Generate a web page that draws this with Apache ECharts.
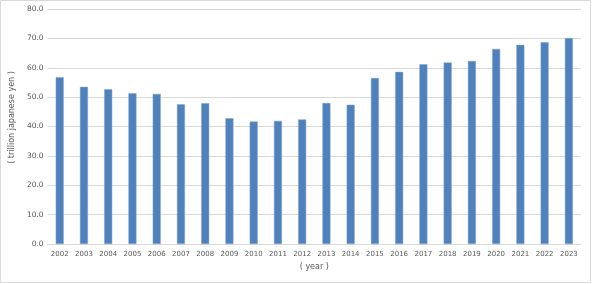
<!DOCTYPE html>
<html>
<head>
<meta charset="utf-8">
<script src="https://cdn.jsdelivr.net/npm/echarts@6/dist/echarts.min.js"></script>
<style>
html,body{margin:0;padding:0;background:#fff;}
#c{width:592px;height:284px;}
</style>
</head>
<body>
<div id="c"></div>
<script>
var years = ["2002","2003","2004","2005","2006","2007","2008","2009","2010","2011","2012","2013","2014","2015","2016","2017","2018","2019","2020","2021","2022","2023"];
var values = [56.8,53.5,52.7,51.3,51.1,47.6,47.9,42.8,41.7,41.9,42.4,48.0,47.4,56.5,58.6,61.2,61.8,62.3,66.4,67.8,68.7,70.1];
var yName = "( trillion japanese yen )";
var xName = "( year )";

var chart = echarts.init(document.getElementById('c'), null, {renderer:'canvas'});
chart.setOption({
  animation:false,
  backgroundColor:'#fff',
  graphic:[{type:'rect', shape:{x:0.5,y:0.5,width:590,height:282}, style:{fill:'none', stroke:'#d9d9d9', lineWidth:1}, silent:true}],
  grid:{left:43, right:11, top:9, bottom:40, containLabel:false},
  xAxis:{
    type:'category', data:years,
    axisLine:{show:true, lineStyle:{color:'#d9d9d9'}},
    axisTick:{show:false},
    axisLabel:{color:'#595959', fontSize:7, fontFamily:'DejaVu Sans', margin:7, interval:0},
    name:xName, nameLocation:'middle', nameGap:19,
    nameTextStyle:{color:'#595959', fontSize:8, fontFamily:'DejaVu Sans'}
  },
  yAxis:{
    type:'value', min:0, max:80, interval:10,
    axisLine:{show:false}, axisTick:{show:false},
    splitLine:{lineStyle:{color:'#d9d9d9'}},
    axisLabel:{color:'#595959', fontSize:7.5, fontFamily:'DejaVu Sans', margin:4,
      formatter:function(v){return v.toFixed(1);}},
    name:yName, nameLocation:'middle', nameGap:21,
    nameTextStyle:{color:'#595959', fontSize:8, fontFamily:'DejaVu Sans', padding:[0,0,0,18]}
  },
  series:[{type:'bar', data:values, barWidth:8,
    itemStyle:{color:'#4f81bd', borderColor:'#7fa3d0', borderWidth:0.5}}]
});
</script>
</body>
</html>
